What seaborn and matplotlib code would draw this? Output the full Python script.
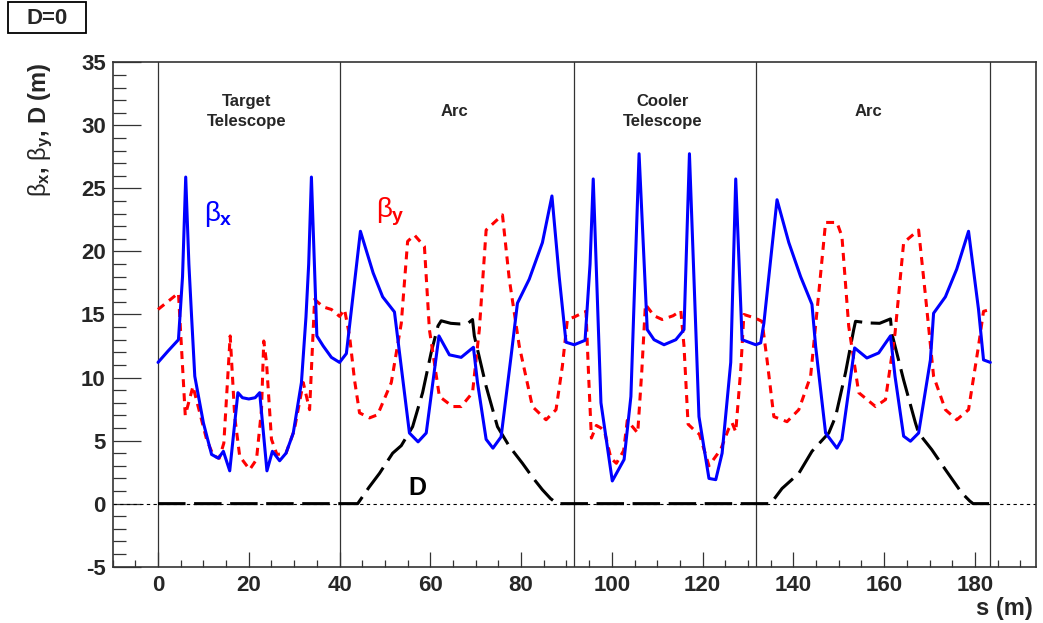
import matplotlib
matplotlib.use('Agg')
import matplotlib.pyplot as plt
from matplotlib.patches import Rectangle
from matplotlib.ticker import MultipleLocator
import seaborn as sns

# beta_x (m) along the ring
s_bx = [0.0, 2.2, 4.5, 5.4, 6.1, 6.8, 7.4, 8.1, 10.0, 11.8, 13.3, 14.4, 15.8, 17.6, 18.6, 20.0, 21.4, 22.4,
        24.0, 25.2, 26.8, 28.2, 29.8, 31.6, 32.6, 33.2, 33.8, 35.0, 36.4, 38.2, 40.0,
        41.5, 44.6, 47.4, 49.5, 52.1, 53.2, 55.4, 57.3, 59.1, 61.9, 64.2, 66.8, 69.5, 70.4, 72.3, 73.8,
        75.6, 77.8, 79.2, 81.8, 84.7, 86.8, 88.4, 89.9, 91.7,
        94.1, 95.2, 95.9, 97.6, 100.1, 102.7, 104.2, 106.0, 107.8, 109.3, 111.5, 114.1, 115.9, 117.1,
        119.2, 121.4, 122.9, 124.3, 126.2, 127.3, 128.7, 131.7,
        132.8, 133.5, 136.4, 139.0, 141.6, 144.1, 144.9, 147.1, 149.6, 150.7, 153.5, 156.2, 158.8,
        161.4, 162.4, 164.3, 165.8, 167.6, 170.2, 170.9, 173.5, 176.0, 178.6, 180.8, 181.9, 183.4]
bx = [11.2, 12.1, 13.0, 18.0, 25.9, 19.0, 14.8, 10.1, 6.4, 3.9, 3.6, 4.15, 2.6, 8.8, 8.4, 8.3, 8.4, 8.8,
      2.6, 4.15, 3.4, 4.0, 5.6, 9.6, 14.8, 19.0, 25.9, 13.3, 12.5, 11.6, 11.2,
      11.9, 21.6, 18.3, 16.4, 15.2, 12.0, 5.6, 4.9, 5.6, 13.3, 11.8, 11.6, 12.4, 9.6, 5.1, 4.4,
      5.3, 11.7, 15.9, 17.8, 20.7, 24.4, 18.0, 12.8, 12.6,
      12.95, 19.0, 25.75, 8.0, 1.8, 3.5, 8.5, 27.75, 13.8, 13.0, 12.6, 13.0, 13.8, 27.75,
      6.9, 2.0, 1.9, 4.0, 11.2, 25.75, 13.0, 12.6,
      12.75, 14.3, 24.1, 20.7, 18.0, 15.8, 12.5, 5.6, 4.4, 5.1, 12.35, 11.55, 11.95,
      13.3, 10.1, 5.35, 4.95, 5.6, 11.4, 15.1, 16.4, 18.6, 21.6, 15.4, 11.4, 11.2]

# beta_y (m)
s_by = [0.0, 4.5, 5.6, 6.0, 7.7, 9.2, 10.7, 12.2, 13.5, 14.5, 15.9, 16.9, 18.0, 20.2, 21.7, 22.8, 23.3,
        23.9, 25.0, 26.2, 28.2, 30.0, 32.0, 33.4, 34.5, 36.4, 38.2, 40.0,
        41.1, 42.2, 43.3, 44.4, 46.6, 48.4, 51.4, 53.6, 55.0, 56.5, 58.7, 59.8, 62.0, 64.9, 66.8,
        69.3, 70.8, 72.3, 75.9, 77.4, 79.6, 82.5, 85.5, 87.7, 89.1, 90.2, 91.7,
        94.3, 94.9, 95.5, 96.6, 97.6, 98.4, 99.8, 101.0, 102.6, 103.4, 105.7, 106.6, 107.4, 109.3,
        111.1, 113.5, 115.2, 115.9, 116.8, 118.1, 119.3, 121.4, 124.0, 125.7, 126.5, 127.3, 128.4,
        129.1, 131.7,
        133.1, 134.2, 135.7, 138.6, 141.2, 143.8, 145.6, 147.1, 149.6, 150.7, 152.2, 154.4, 158.1,
        160.3, 162.4, 164.3, 167.6, 169.05, 170.9, 173.5, 176.0, 178.6, 180.8, 181.9, 183.4]
by = [15.4, 16.7, 9.6, 7.0, 9.3, 7.2, 5.1, 3.8, 3.6, 4.8, 13.3, 6.9, 3.75, 2.7, 3.5, 7.45, 12.9,
      11.2, 5.1, 3.9, 4.0, 5.8, 9.6, 7.45, 16.2, 15.6, 15.4, 14.85,
      15.4, 13.3, 9.8, 7.2, 6.8, 7.05, 9.6, 14.3, 20.8, 21.3, 20.4, 13.8, 8.5, 7.7, 7.7,
      8.8, 13.8, 21.7, 22.9, 17.8, 12.5, 7.7, 6.65, 7.45, 10.9, 14.6, 14.8,
      15.25, 10.0, 5.2, 6.2, 6.0, 5.7, 3.6, 3.2, 4.2, 6.6, 5.6, 10.5, 15.8, 14.9,
      14.6, 14.9, 15.3, 12.5, 6.3, 5.85, 5.5, 3.0, 4.3, 5.9, 6.4, 5.7, 10.6,
      15.0, 14.7,
      14.45, 11.4, 6.9, 6.5, 7.45, 10.1, 16.7, 22.3, 22.3, 21.2, 14.06, 8.8, 7.7,
      8.25, 13.5, 20.7, 21.7, 16.7, 10.1, 7.45, 6.65, 7.45, 12.5, 15.25, 15.4]

# dispersion D (m)
s_d = [0.0, 44.0, 46.5, 48.8, 51.7, 53.6, 56.1, 58.3, 60.2, 61.7, 62.4, 64.5, 66.4, 68.3, 69.3, 69.7,
       72.3, 74.8, 77.4, 80.3, 82.5, 84.7, 86.5, 88.0,
       135.0, 137.5, 141.2, 144.1, 147.8, 149.3, 151.5, 153.3, 153.7, 156.6, 159.0, 161.4, 161.7,
       164.3, 166.9, 167.6, 170.5, 173.5, 177.1, 178.9, 179.6, 183.4]
disp = [0.0, 0.0, 1.3, 2.4, 4.0, 4.6, 6.1, 8.8, 12.0, 14.1, 14.5, 14.3, 14.25, 14.3, 14.6, 13.3,
        9.3, 6.1, 4.55, 3.2, 2.1, 1.1, 0.4, 0.0,
        0.0, 1.2, 2.4, 4.15, 5.6, 6.9, 10.4, 13.8, 14.46, 14.33, 14.3, 14.65, 13.5,
        9.8, 6.4, 5.6, 4.28, 2.7, 0.85, 0.2, 0.0, 0.0]

section_edges = [0, 40, 91.7, 131.7, 183.4]
section_names = ['Target\nTelescope', 'Arc', 'Cooler\nTelescope', 'Arc']
section_mid = [19.5, 65.3, 111.1, 156.6]

sns.set_theme(style='white')
plt.rcParams['font.family'] = ['Liberation Sans', 'DejaVu Sans']
plt.rcParams['mathtext.fontset'] = 'custom'
plt.rcParams['mathtext.rm'] = 'Liberation Sans'
plt.rcParams['mathtext.it'] = 'Liberation Sans'
plt.rcParams['mathtext.bf'] = 'Liberation Sans:bold'
plt.rcParams['axes.unicode_minus'] = False

fig = plt.figure(figsize=(10.43, 6.23), dpi=100)
ax = fig.add_axes([0.108, 0.0904, 0.885, 0.8096])

# reference lines
ax.axhline(0, color='black', linewidth=0.8, linestyle=(0, (3, 3)), zorder=1)
for e in section_edges:
    ax.axvline(e, color='#333333', linewidth=0.9, zorder=1)

sns.lineplot(x=s_d, y=disp, ax=ax, color='black', linewidth=2.2,
             linestyle=(0, (9, 2.8)), errorbar=None, sort=False)
sns.lineplot(x=s_by, y=by, ax=ax, color='#ff0000', linewidth=2.2,
             linestyle=(0, (2.6, 2.0)), errorbar=None, sort=False)
sns.lineplot(x=s_bx, y=bx, ax=ax, color='#0000ff', linewidth=2.2, errorbar=None, sort=False)

ax.set_xlim(-10, 193.4)
ax.set_ylim(-5, 35)
ax.xaxis.set_major_locator(MultipleLocator(20))
ax.xaxis.set_minor_locator(MultipleLocator(5))
ax.yaxis.set_major_locator(MultipleLocator(5))
ax.yaxis.set_minor_locator(MultipleLocator(1))
ax.tick_params(axis='both', which='both', direction='in', top=False, right=False,
               bottom=True, left=True, color='#333333', width=0.9)
ax.tick_params(axis='y', which='major', length=20, labelsize=16, pad=5)
ax.tick_params(axis='y', which='minor', length=9.5)
ax.tick_params(axis='x', which='major', length=11, labelsize=16, pad=6)
ax.tick_params(axis='x', which='minor', length=5)
for lab in ax.get_xticklabels() + ax.get_yticklabels():
    lab.set_fontweight('bold')
for sp in ax.spines.values():
    sp.set_visible(True)
    sp.set_color('#333333')
    sp.set_linewidth(1.2)

ax.set_ylabel(r'$\beta_{\mathbf{x}}$, $\beta_{\mathbf{y}}$, D (m)', fontsize=17,
              fontweight='bold', loc='top')
ax.yaxis.set_label_coords(-0.0625, 1.0)
ax.set_xlabel('s (m)', fontsize=17, fontweight='bold', loc='right')
ax.xaxis.set_label_coords(0.997, -0.06)

# section names
for name, xm in zip(section_names, section_mid):
    ax.text(xm, 31.1, name, ha='center', va='center', fontsize=12, fontweight='bold',
            linespacing=1.35)

# curve labels
ax.text(10.1, 22.4, r'$\beta_{\mathbf{x}}$', color='#0000ff', fontsize=20, ha='left', va='baseline')
ax.text(48.0, 22.7, r'$\beta_{\mathbf{y}}$', color='#ff0000', fontsize=20, ha='left', va='baseline')
ax.text(55.2, 0.7, 'D', color='black', fontsize=18, fontweight='bold', ha='left', va='baseline')

# "D=0" box in the corner
fig.add_artist(Rectangle((0.0077, 0.947), 0.0748, 0.0498, transform=fig.transFigure,
                         facecolor='white', edgecolor='black', linewidth=1.3))
fig.text(0.045, 0.971, 'D=0', ha='center', va='center', fontsize=16, fontweight='bold')

fig.savefig('out.png', dpi=100)
